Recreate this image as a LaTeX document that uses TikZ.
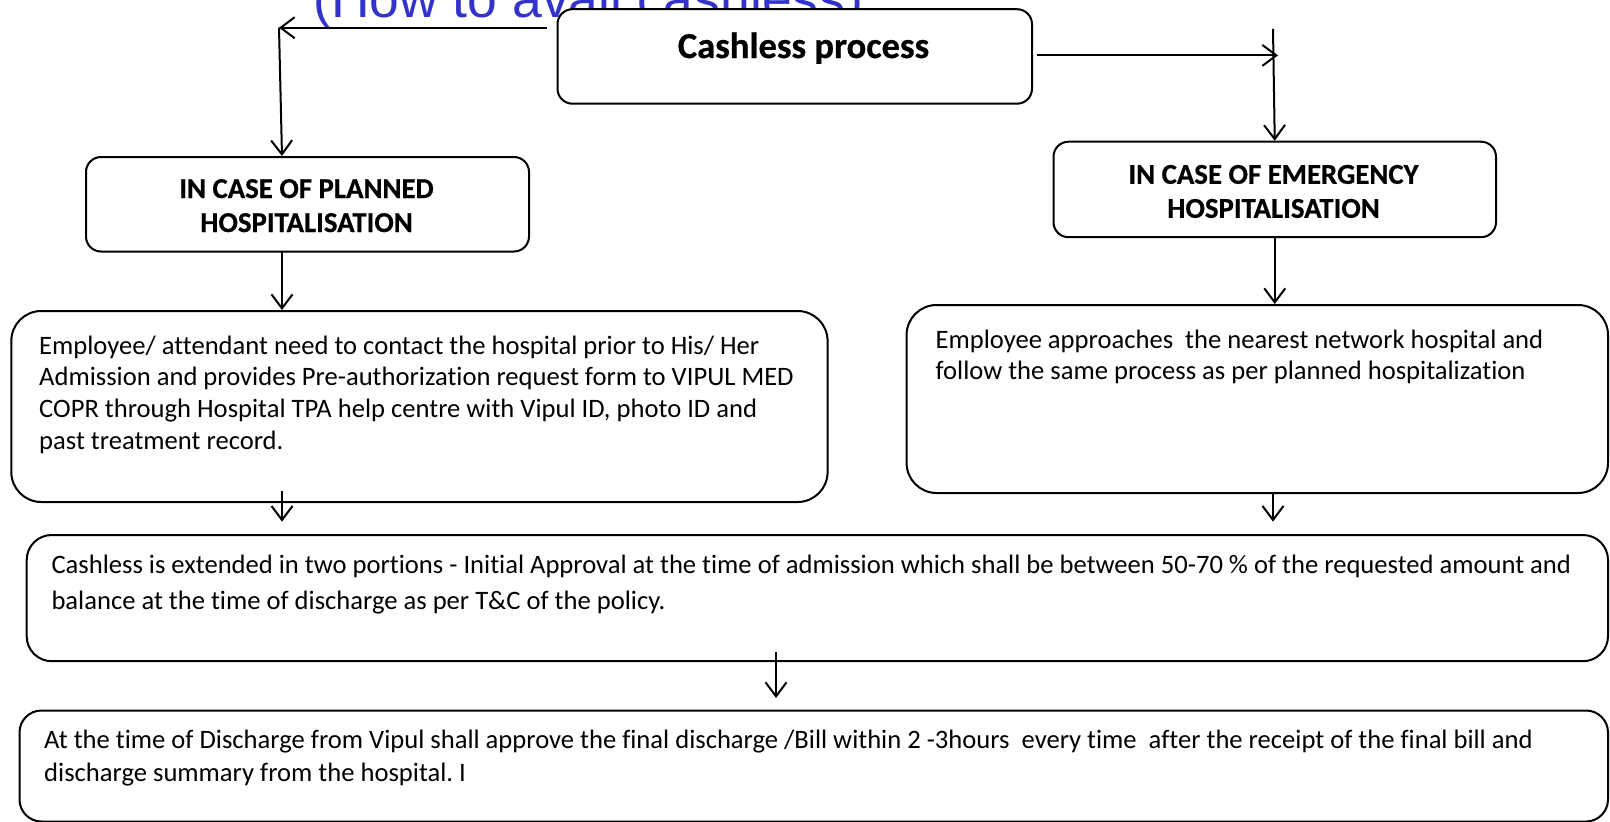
\documentclass[tikz,border=0pt]{standalone}
\usepackage{fontspec}
\setmainfont{Carlito}[RawFeature={-liga;-clig;-dlig},BoldFeatures={FakeBold=0.6}]
\newfontfamily\arialfont{Liberation Sans}
\usetikzlibrary{arrows.meta}
\definecolor{titleblue}{RGB}{51,51,204}
\frenchspacing
\begin{document}
\begin{tikzpicture}[x=1pt,y=-1pt,
  box/.style={draw=black, line width=2pt, fill=white, inner sep=0pt, anchor=north west},
  arr/.style={line width=2pt, -{Straight Barb[length=14pt,width=21pt,line width=2pt]}},
  head/.style={font=\bfseries\fontsize{28.8}{34}\selectfont, align=center, inner sep=0pt, anchor=base},
  body/.style={font=\fontsize{26.6}{31.8}\selectfont, align=left, inner sep=0pt, anchor=base west},
]
\useasboundingbox (0,0) rectangle (1610,822);
\fill[white] (0,0) rectangle (1610,822);

% title (partly hidden behind the top box)
\node[anchor=base west, inner sep=0pt, text=titleblue, font=\arialfont\fontsize{53.5}{60}\selectfont] (title) at (313,17) {(How to avail cashless)};

% boxes
\node[box, rounded corners=15pt, minimum width=474.5pt, minimum height=94.5pt] (cp) at (556.5,8.2) {};
\node[box, rounded corners=15pt, minimum width=443pt, minimum height=94.5pt] (planned) at (85,156) {};
\node[box, rounded corners=15pt, minimum width=442.5pt, minimum height=95.5pt] (emerg) at (1052.5,140.7) {};
\node[box, rounded corners=30pt, minimum width=816.3pt, minimum height=191pt] (emp) at (10.3,310) {};
\node[box, rounded corners=30pt, minimum width=701.4pt, minimum height=188pt] (emt) at (905.6,304) {};
\node[box, rounded corners=25pt, minimum width=1581.3pt, minimum height=126.2pt] (ext) at (25.7,534) {};
\node[box, rounded corners=22pt, minimum width=1588.5pt, minimum height=111pt] (fin) at (18.5,709.5) {};

% texts (anchor base = baseline of the last line)
\node[head, font=\bfseries\fontsize{36.6}{42}\selectfont] (cpt) at (803.5,58) {Cashless process};
\node[head] (plt) at (306.5,232) {IN CASE OF PLANNED\\HOSPITALISATION};
\node[head] (emtx) at (1273.5,217.8) {IN CASE OF EMERGENCY\\HOSPITALISATION};
\node[body] (empt) at (39,449.4) {Employee/ attendant need to contact the hospital prior to His/ Her\\Admission and provides Pre-authorization request form to VIPUL MED\\COPR through Hospital TPA help centre with Vipul ID, photo ID and\\past treatment record.};
\node[body] (emtt) at (935.4,379.8) {Employee approaches~ the nearest network hospital and\\follow the same process as per planned hospitalization};
\node[body, font=\fontsize{26.6}{36}\selectfont] (extt) at (51.3,609) {Cashless is extended in two portions - Initial Approval at the time of admission which shall be between 50-70 \% of the requested amount and\\balance at the time of discharge as per T\&C of the policy.};
\node[body, font=\fontsize{26.6}{33}\selectfont] (fint) at (44,781.5) {At the time of Discharge from Vipul shall approve the final discharge /Bill within 2 -3hours~ every time~ after the receipt of the final bill and\\discharge summary from the hospital. I};

% connectors
\coordinate (lc) at (279,27.7);
\coordinate (pin) at (282,156);
\draw[arr] ([xshift=-10pt]cp.west |- lc) -- (lc);
\draw[arr] (lc) -- (pin);

\coordinate (rc) at (1278,55.4);
\coordinate (rtop) at (1273,28.8);
\draw[arr] ([xshift=4pt]cp.east |- rc) -- (rc);
\draw[arr] (rtop) -- (emerg.north);

\coordinate (p1) at (282,250.5);
\coordinate (p2) at (282,310);
\draw[arr] (p1) -- (p2);

\draw[arr] (emerg.south) -- (emt.north -| emerg.south);

\coordinate (a3s) at (282,491);
\coordinate (a3e) at (282,521.6);
\draw[arr] (a3s) -- (a3e);

\coordinate (a4s) at (1273,492);
\coordinate (a4e) at (1273,521.6);
\draw[arr] (a4s) -- (a4e);

\coordinate (a5s) at (776,652);
\coordinate (a5e) at (776,698);
\draw[arr] (a5s) -- (a5e);
\end{tikzpicture}
\end{document}
